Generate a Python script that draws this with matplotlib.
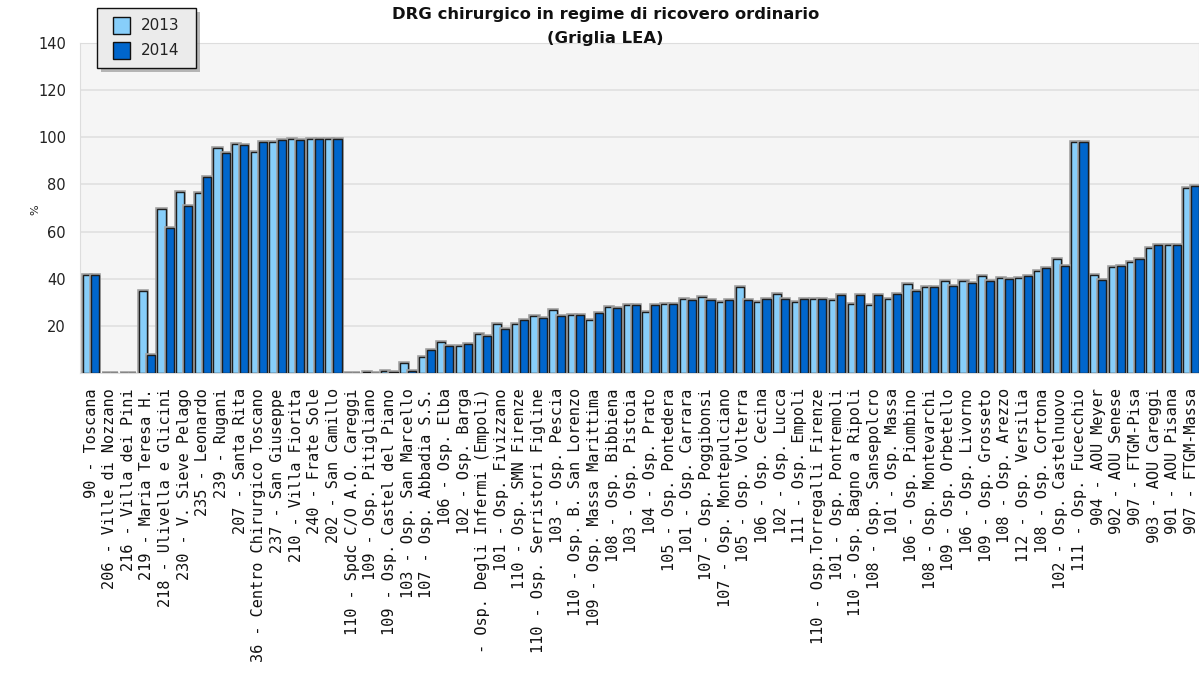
import matplotlib
matplotlib.use("Agg")
import matplotlib.pyplot as plt
import matplotlib.patheffects as pe
from matplotlib.patches import Rectangle
import numpy as np

labels = [
    "90 - Toscana", "206 - Ville di Nozzano", "216 - Villa dei Pini", "219 - Maria Teresa H.",
    "218 - Ulivella e Glicini", "230 - V. Sieve Pelago", "235 - Leonardo", "239 - Rugani",
    "207 - Santa Rita", "36 - Centro Chirurgico Toscano", "237 - San Giuseppe", "210 - Villa Fiorita",
    "240 - Frate Sole", "202 - San Camillo", "110 - Spdc C/O A.O. Careggi", "109 - Osp. Pitigliano",
    "109 - Osp. Castel del Piano", "103 - Osp. San Marcello", "107 - Osp. Abbadia S.S.", "106 - Osp. Elba",
    "102 - Osp. Barga", " - Osp. Degli Infermi (Empoli)", "101 - Osp. Fivizzano", "110 - Osp. SMN Firenze",
    "110 - Osp. Serristori Figline", "103 - Osp. Pescia", "110 - Osp. B. San Lorenzo", "109 - Osp. Massa Marittima",
    "108 - Osp. Bibbiena", "103 - Osp. Pistoia", "104 - Osp. Prato", "105 - Osp. Pontedera",
    "101 - Osp. Carrara", "107 - Osp. Poggibonsi", "107 - Osp. Montepulciano", "105 - Osp. Volterra",
    "106 - Osp. Cecina", "102 - Osp. Lucca", "111 - Osp. Empoli", "110 - Osp.Torregalli Firenze",
    "101 - Osp. Pontremoli", "110 - Osp. Bagno a Ripoli", "108 - Osp. Sansepolcro", "101 - Osp. Massa",
    "106 - Osp. Piombino", "108 - Osp. Montevarchi", "109 - Osp. Orbetello", "106 - Osp. Livorno",
    "109 - Osp. Grosseto", "108 - Osp. Arezzo", "112 - Osp. Versilia", "108 - Osp. Cortona",
    "102 - Osp. Castelnuovo", "111 - Osp. Fucecchio", "904 - AOU Meyer", "902 - AOU Senese",
    "907 - FTGM-Pisa", "903 - AOU Careggi", "901 - AOU Pisana", "907 - FTGM-Massa",
]

v2013 = [41.6, 0, 0, 34.8, 69.4, 76.9, 76.4, 95.3, 97.3, 93.9, 98.0, 99.4, 99.4, 99.4,
         0, 0.6, 1.0, 4.4, 6.9, 13.0, 11.6, 16.7, 20.8, 20.6, 24.2, 26.7, 24.7, 22.6,
         28.1, 28.9, 26.0, 29.4, 31.4, 32.2, 30.1, 36.4, 30.1, 33.5, 30.1, 31.4, 30.8,
         29.4, 28.9, 31.4, 37.6, 36.4, 39.0, 38.9, 41.2, 40.3, 40.3, 43.4, 48.3, 98.1,
         41.6, 45.0, 47.0, 53.0, 54.2, 78.4]

v2014 = [41.6, 0, 0, 7.6, 61.4, 70.9, 83.2, 93.2, 96.7, 98.0, 98.7, 98.7, 99.4, 99.4,
         0, 0, 0.3, 1.0, 9.8, 11.6, 12.4, 15.8, 18.5, 22.6, 23.3, 24.2, 24.7, 25.5,
         27.4, 28.9, 28.9, 29.4, 30.8, 30.8, 30.8, 30.8, 31.4, 31.4, 31.4, 31.4, 33.0,
         33.0, 33.0, 33.5, 34.9, 36.4, 37.0, 38.3, 39.0, 39.7, 41.2, 44.5, 45.3, 98.1,
         39.6, 45.5, 48.5, 54.2, 54.2, 79.2]

series_names = ["2013", "2014"]
series_colors = ["#87cefa", "#0066cc"]
yticks = [20, 40, 60, 80, 100, 120, 140]

W, H = 1199, 680
fig = plt.figure(figsize=(W / 100, H / 100), dpi=100)
fig.patch.set_facecolor("white")

left, right, top, bottom = 80, 1199, 43, 373
ax = fig.add_axes([left / W, 1 - bottom / H, (right - left) / W, (bottom - top) / H])
ax.set_facecolor("#f5f5f5")

x = np.arange(len(labels))
bw = 0.435
halo = [pe.Stroke(linewidth=2.6, foreground="#a0a0a0"), pe.Normal()]
b1 = ax.bar(x - bw / 2, v2013, width=bw, color=series_colors[0], edgecolor="#1e1e1e",
            linewidth=1.0, zorder=3)
b2 = ax.bar(x + bw / 2, v2014, width=bw, color=series_colors[1], edgecolor="#1e1e1e",
            linewidth=1.0, zorder=3)
for p in list(b1) + list(b2):
    p.set_path_effects(halo)

ax.set_xlim(-0.59, 59.41)
ax.set_ylim(0, 140)
ax.set_yticks(yticks)
ax.yaxis.grid(True, color="#e0e0e0", linewidth=1.2, zorder=0)
ax.set_axisbelow(True)
ax.tick_params(axis="y", length=0, pad=10, labelsize=10.5, colors="#222222")
ax.set_xticks(x)
ax.set_xticklabels(labels, rotation=90, fontsize=11, va="top", ha="center",
                   color="#111111", family="DejaVu Sans Mono")
ax.tick_params(axis="x", length=0, pad=11)
for s in ax.spines.values():
    s.set_color("#dddddd")

fig.text(35 / W, 1 - 210 / H, "%", rotation=90, ha="center", va="center",
         fontsize=8, color="#222222")

fig.text(605.5 / W, 1 - 14 / H, "DRG chirurgico in regime di ricovero ordinario",
         ha="center", va="center", fontsize=11.8, fontweight="bold", color="#111111")
fig.text(605.5 / W, 1 - 38 / H, "(Griglia LEA)",
         ha="center", va="center", fontsize=11.8, fontweight="bold", color="#111111")

# legend drawn in pixel coordinates on an overlay
ov = fig.add_axes([0, 0, 1, 1], facecolor="none")
ov.set_xlim(0, W)
ov.set_ylim(H, 0)
ov.axis("off")
ov.add_patch(Rectangle((101, 12), 99, 60, facecolor="#9a9a9a", edgecolor="none", alpha=0.7))
ov.add_patch(Rectangle((97, 8), 99, 60, facecolor="#ebebeb", edgecolor="#111111", linewidth=1.0))
for k, (name, col) in enumerate(zip(series_names, series_colors)):
    yc = 25 + 25.5 * k
    ov.add_patch(Rectangle((113, yc - 8.5), 17, 17, facecolor=col, edgecolor="#111111", linewidth=1.0))
    ov.text(141, yc, name, ha="left", va="center", fontsize=11, color="#222222")

fig.savefig("out.png", dpi=100)
